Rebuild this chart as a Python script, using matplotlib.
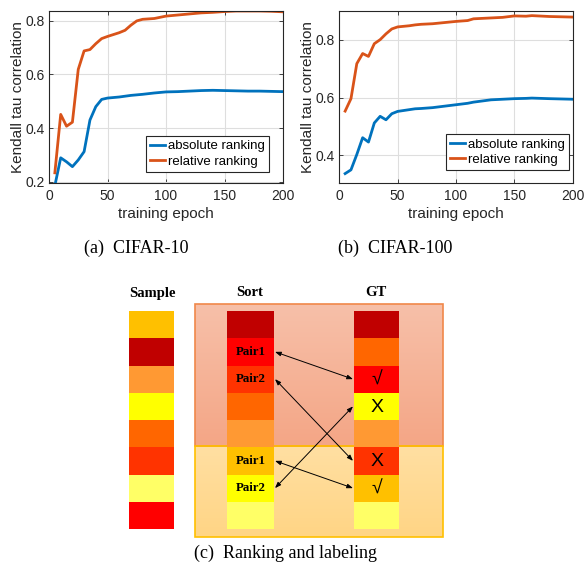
import numpy as np
import matplotlib
matplotlib.use("Agg")
import matplotlib.pyplot as plt
from matplotlib.patches import Rectangle

# ---------------- data ----------------
epochs_a = [5, 10, 15, 20, 25, 30, 35, 40, 45, 50, 60, 65, 70, 75, 80, 90, 100, 110, 120, 130, 140, 150, 160, 170, 180, 190, 200]
rel_a = [0.233, 0.451, 0.407, 0.422, 0.619, 0.688, 0.693, 0.715, 0.734, 0.742, 0.756, 0.765, 0.784, 0.800, 0.806, 0.809, 0.818, 0.822, 0.826, 0.830, 0.832, 0.835, 0.837, 0.837, 0.837, 0.836, 0.834]
abs_a = [0.185, 0.289, 0.274, 0.256, 0.281, 0.312, 0.430, 0.480, 0.507, 0.512, 0.516, 0.519, 0.522, 0.524, 0.526, 0.531, 0.535, 0.536, 0.538, 0.540, 0.541, 0.540, 0.539, 0.538, 0.538, 0.537, 0.536]

epochs_b = [5, 10, 15, 20, 25, 30, 35, 40, 45, 50, 60, 65, 70, 80, 90, 100, 110, 115, 130, 140, 150, 160, 165, 180, 190, 200]
rel_b = [0.553, 0.596, 0.717, 0.752, 0.742, 0.786, 0.800, 0.820, 0.837, 0.844, 0.848, 0.851, 0.853, 0.855, 0.859, 0.863, 0.866, 0.872, 0.875, 0.877, 0.882, 0.881, 0.883, 0.880, 0.879, 0.878]
abs_b = [0.337, 0.350, 0.403, 0.461, 0.446, 0.512, 0.535, 0.523, 0.544, 0.552, 0.558, 0.561, 0.562, 0.565, 0.570, 0.575, 0.580, 0.584, 0.592, 0.594, 0.596, 0.597, 0.598, 0.596, 0.595, 0.594]

series_labels = ["absolute ranking", "relative ranking"]
xticks = [0, 50, 100, 150, 200]
yticks_a = [0.2, 0.4, 0.6, 0.8]
yticks_b = [0.4, 0.6, 0.8]
captions = ["(a)  CIFAR-10", "(b)  CIFAR-100", "(c)  Ranking and labeling"]

column_titles = ["Sample", "Sort", "GT"]
sample_colors = ["#FFC000", "#C00000", "#FF9933", "#FFFF00", "#FF6600", "#FF3300", "#FFFF66", "#FF0000"]
sort_colors = ["#C00000", "#FF0000", "#FF3300", "#FF6600", "#FF9933", "#FFC000", "#FFFF00", "#FFFF66"]
gt_colors = ["#C00000", "#FF6600", "#FF0000", "#FFFF00", "#FF9933", "#FF3300", "#FFC000", "#FFFF66"]
sort_texts = ["", "Pair1", "Pair2", "", "", "Pair1", "Pair2", ""]
gt_marks = ["", "", "\u221a", "X", "", "X", "\u221a", ""]
pair_links = [(1, 2), (2, 5), (5, 6), (6, 3)]  # (sort row, gt row)

BLUE = "#0072BD"
ORANGE = "#D95319"
SPINE = "#262626"

fig = plt.figure(figsize=(5.85, 5.74), dpi=100)
W, H = 585, 574

plt.rcParams["font.family"] = ["Liberation Sans", "DejaVu Sans"]


def style_axes(ax, yt, ylim):
    ax.set_xlim(0, 200)
    ax.set_ylim(*ylim)
    ax.set_xticks(xticks)
    ax.set_yticks(yt)
    ax.set_yticklabels([f"{v:.1f}" for v in yt])
    ax.grid(True, color="#DEDEDE", linewidth=0.8)
    ax.set_axisbelow(True)
    for s in ax.spines.values():
        s.set_color(SPINE)
        s.set_linewidth(0.8)
    ax.tick_params(direction="in", length=3, width=0.6, colors=SPINE,
                   labelsize=10, top=True, right=True, pad=4)
    ax.tick_params(axis="y", pad=3)
    for lab in ax.get_xticklabels() + ax.get_yticklabels():
        lab.set_color("#262626")
    ax.set_xlabel("training epoch", fontsize=11, color="#262626", labelpad=3)
    ax.set_ylabel("Kendall tau correlation", fontsize=11, color="#262626", labelpad=0.5)


def add_legend(ax, anchor):
    leg = ax.legend(loc="lower right", bbox_to_anchor=anchor, borderaxespad=0,
                    fontsize=9.5, fancybox=False, edgecolor=SPINE, framealpha=1,
                    handlelength=1.2, handletextpad=0.2, borderpad=0.3, labelspacing=0.25)
    leg.get_frame().set_linewidth(0.8)


ax1 = fig.add_axes([49 / W, 1 - 183 / H, 234 / W, 172 / H])
ax1.plot(epochs_a, abs_a, color=BLUE, lw=2, label=series_labels[0])
ax1.plot(epochs_a, rel_a, color=ORANGE, lw=2, label=series_labels[1])
style_axes(ax1, yticks_a, (0.195, 0.837))
add_legend(ax1, (0.94, 0.064))

ax2 = fig.add_axes([339.3 / W, 1 - 183 / H, 233.4 / W, 172 / H])
ax2.plot(epochs_b, abs_b, color=BLUE, lw=2, label=series_labels[0])
ax2.plot(epochs_b, rel_b, color=ORANGE, lw=2, label=series_labels[1])
style_axes(ax2, yticks_b, (0.3045, 0.899))
add_legend(ax2, (0.984, 0.0756))

# ---------------- diagram & captions (pixel coordinates) ----------------
axd = fig.add_axes([0, 0, 1, 1], zorder=-1)
axd.axis("off")

serif = ["Liberation Serif", "DejaVu Serif"]
axd.text(136, 248, captions[0], fontsize=13, family=serif, ha="center", va="center")
axd.text(395, 248, captions[1], fontsize=13, family=serif, ha="center", va="center")
axd.text(286, 553, captions[2], fontsize=13, family=serif, ha="center", va="center")


def grad_rect(x0, x1, y0, y1, c_top, c_bot, edge):
    ct = np.array(matplotlib.colors.to_rgb(c_top))
    cb = np.array(matplotlib.colors.to_rgb(c_bot))
    t = np.linspace(0, 1, 64)[:, None]
    img = (ct[None, :] * (1 - t) + cb[None, :] * t)[:, None, :]
    axd.imshow(img, extent=(x0, x1, y1, y0), aspect="auto", zorder=1, interpolation="bilinear")
    axd.add_patch(Rectangle((x0, y0), x1 - x0, y1 - y0, fill=False, edgecolor=edge, lw=1.2, zorder=2))


grad_rect(195, 443, 304, 446, "#F7C0A9", "#F4A686", "#F0884A")
grad_rect(195, 443, 446, 537, "#FFDFA2", "#FFD585", "#FFC000")
axd.set_xlim(0, W)
axd.set_ylim(H, 0)

row_top = 311
row_h = 27.25
cols = [(129.3, 174, sample_colors), (227, 274, sort_colors), (354, 399, gt_colors)]
title_x = [152, 250, 376]
for (x0, x1, colors), tx, title in zip(cols, title_x, column_titles):
    axd.text(tx, 293, title, fontsize=10.5, family=serif, fontweight="bold",
             ha="center", va="center")
    for i, c in enumerate(colors):
        axd.add_patch(Rectangle((x0, row_top + i * row_h), x1 - x0, row_h,
                                facecolor=c, edgecolor="none", zorder=3))

for i, t in enumerate(sort_texts):
    if t:
        axd.text(250.5, row_top + (i + 0.5) * row_h, t, fontsize=9.3, family=serif,
                 fontweight="bold", ha="center", va="center", zorder=4)
for i, m in enumerate(gt_marks):
    if m:
        axd.text(377, row_top + (i + 0.5) * row_h + 1, m, fontsize=14,
                 family=["Liberation Sans", "DejaVu Sans"], ha="center", va="center", zorder=4)

for s_row, g_row in pair_links:
    ys = row_top + (s_row + 0.5) * row_h
    yg = row_top + (g_row + 0.5) * row_h
    axd.annotate("", xy=(353, yg), xytext=(275, ys),
                 arrowprops=dict(arrowstyle="<|-|>,head_length=0.35,head_width=0.13",
                                 color="black", lw=0.7, shrinkA=0, shrinkB=0),
                 zorder=5)

fig.savefig("out.png", dpi=100)
